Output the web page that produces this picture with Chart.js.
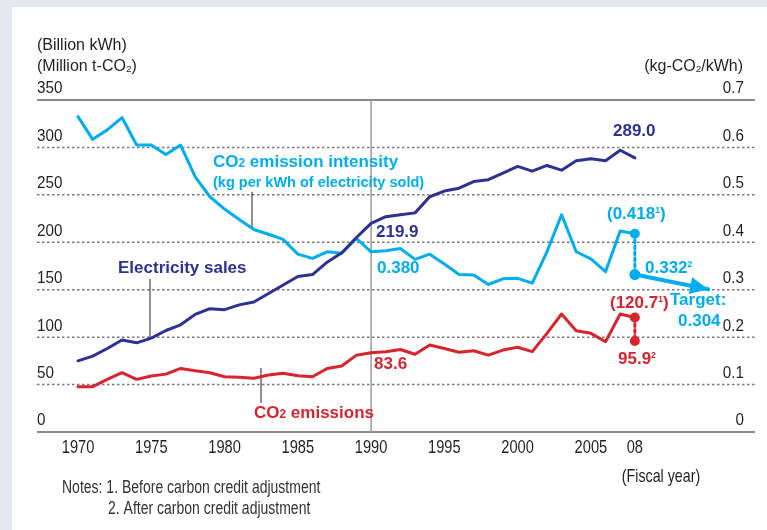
<!DOCTYPE html>
<html lang="en">
<head>
    <meta charset="UTF-8">
    <title>Electricity sales and CO2 emissions</title>
    <script src="https://cdn.jsdelivr.net/npm/chart.js"></script>
    <style>
        html, body { margin: 0; padding: 0; background: #fff; }
        #wrap { width: 767px; height: 530px; }
    </style>
</head>
<body>
<div id="wrap"><canvas id="myChart" width="767" height="530"></canvas></div>
<script>
    // fiscal years 1970 - 2008
    const years = [1970, 1971, 1972, 1973, 1974, 1975, 1976, 1977, 1978, 1979,
        1980, 1981, 1982, 1983, 1984, 1985, 1986, 1987, 1988, 1989,
        1990, 1991, 1992, 1993, 1994, 1995, 1996, 1997, 1998, 1999,
        2000, 2001, 2002, 2003, 2004, 2005, 2006, 2007, 2008];

    // billion kWh
    const electricitySales = [75, 80, 88, 97, 94, 99, 107, 113, 124, 130,
        129, 134, 137, 146, 155, 164, 166, 179, 189, 205,
        219.9, 227, 229, 231, 248, 254, 257, 264, 266, 273,
        280, 275, 281, 276, 286, 288, 286, 297, 289.0];

    // million t-CO2
    const co2Emissions = [47.8, 47.8, 55.5, 62.5, 55.5, 59, 61, 67, 64.6, 62.5,
        58.3, 57.6, 56.6, 60, 61.9, 59.4, 58.3, 67, 69.6, 81,
        83.6, 84.7, 87, 82, 91.7, 88, 84, 85.7, 81, 86.4,
        89.3, 84.7, 104, 124.4, 106.8, 104, 95.2, 124.4, 120.7];

    // kg-CO2/kWh
    const co2Intensity = [0.665, 0.617, 0.637, 0.663, 0.605, 0.605, 0.585, 0.605, 0.538, 0.496,
        0.470, 0.448, 0.427, 0.417, 0.406, 0.375, 0.366, 0.380, 0.377, 0.408,
        0.380, 0.382, 0.387, 0.364, 0.375, 0.354, 0.332, 0.331, 0.311, 0.323,
        0.324, 0.314, 0.380, 0.458, 0.380, 0.365, 0.338, 0.424, 0.418];

    // 2008 before / after carbon credit adjustment
    const emissions2008 = [120.7, 95.9];
    const intensity2008 = [0.418, 0.332];
    // target (FY2008-2012 average) arrow
    const targetYears = [2008, 2013];
    const targetValues = [0.332, 0.301];

    const leftTicks = [0, 50, 100, 150, 200, 250, 300, 350];
    const rightTicks = ['0', '0.1', '0.2', '0.3', '0.4', '0.5', '0.6', '0.7'];
    const xTicks = [1970, 1975, 1980, 1985, 1990, 1995, 2000, 2005, 2008];
    const xTickLabels = ['1970', '1975', '1980', '1985', '1990', '1995', '2000', '2005', '08'];

    const NAVY = '#2e3192';
    const CYAN = '#00aeef';
    const RED = '#d7242f';
    const TEXT = '#231f20';
    const SANS = "'Liberation Sans', Arial, sans-serif";

    function pts(xs, ys) {
        return xs.map((x, i) => ({ x: x, y: ys[i] }));
    }

    // draw text made of parts [text, sizeFactor, dy]; squeeze < 1 gives a condensed look
    function richText(ctx, parts, x, y, size, weight, color, align, squeeze) {
        const sq = squeeze || 1;
        ctx.save();
        ctx.fillStyle = color;
        ctx.textBaseline = 'middle';
        ctx.textAlign = 'left';
        let w = 0;
        parts.forEach(p => {
            ctx.font = weight + ' ' + (size * p[1]) + 'px ' + SANS;
            w += ctx.measureText(p[0]).width;
        });
        w *= sq;
        let start = align === 'right' ? x - w : (align === 'center' ? x - w / 2 : x);
        ctx.translate(start, y);
        ctx.scale(sq, 1);
        let cx = 0;
        parts.forEach(p => {
            ctx.font = weight + ' ' + (size * p[1]) + 'px ' + SANS;
            ctx.fillText(p[0], cx, p[2] * size);
            cx += ctx.measureText(p[0]).width;
        });
        ctx.restore();
    }

    function line(ctx, x1, y1, x2, y2, color, width, dash) {
        ctx.save();
        ctx.strokeStyle = color;
        ctx.lineWidth = width;
        ctx.setLineDash(dash || []);
        ctx.beginPath();
        ctx.moveTo(x1, y1);
        ctx.lineTo(x2, y2);
        ctx.stroke();
        ctx.restore();
    }

    const decorPlugin = {
        id: 'decor',
        beforeDraw(chart) {
            const ctx = chart.ctx;
            ctx.save();
            ctx.fillStyle = '#fff';
            ctx.fillRect(0, 0, chart.width, chart.height);
            ctx.fillStyle = '#e4e7f0';
            ctx.fillRect(0, 0, 12, chart.height);
            ctx.fillRect(0, 0, chart.width, 7);
            ctx.restore();
        },
        beforeDatasetsDraw(chart) {
            const ctx = chart.ctx;
            const a = chart.chartArea;
            const y = chart.scales.y;
            const x = chart.scales.x;

            leftTicks.forEach((v, i) => {
                const py = y.getPixelForValue(v);
                if (v === 0 || v === 350) {
                    line(ctx, a.left, py, a.right, py, '#8a8a8a', 2);
                } else {
                    line(ctx, a.left, py, a.right, py, '#7a7a7a', 1.5, [2.5, 2.5]);
                }
                richText(ctx, [[String(v), 1, 0]], a.left, py - 11, 16, 'normal', TEXT, 'left', 0.95);
                richText(ctx, [[rightTicks[i], 1, 0]], 744, py - 11, 16, 'normal', TEXT, 'right', 0.95);
            });

            const px90 = x.getPixelForValue(1990);
            line(ctx, px90, a.top, px90, a.bottom, '#9a9a9a', 1.5);

            xTicks.forEach((v, i) => {
                richText(ctx, [[xTickLabels[i], 1, 0]], x.getPixelForValue(v), 448, 19, 'normal', TEXT, 'center', 0.77);
            });

            // axis titles
            richText(ctx, [['(Billion kWh)', 1, 0]], 37, 46, 16, 'normal', TEXT, 'left');
            richText(ctx, [['(Million t-CO', 1, 0], ['2', 0.62, 0.12], [')', 1, 0]], 37, 67, 16, 'normal', TEXT, 'left');
            richText(ctx, [['(kg-CO', 1, 0], ['2', 0.62, 0.12], ['/kWh)', 1, 0]], 743, 67, 16, 'normal', TEXT, 'right');
            richText(ctx, [['(Fiscal year)', 1, 0]], 661, 477, 19, 'normal', TEXT, 'center', 0.75);

            // notes
            richText(ctx, [['Notes: 1. Before carbon credit adjustment', 1, 0]], 62, 488, 17.5, 'normal', '#333', 'left', 0.8);
            richText(ctx, [['2. After carbon credit adjustment', 1, 0]], 108, 509, 17.5, 'normal', '#333', 'left', 0.8);

            // leader lines
            line(ctx, 252, 192, 252, 227, '#231f20', 1);
            line(ctx, 150, 279, 150, 337, '#231f20', 1);
            line(ctx, 261, 368, 261, 403, '#231f20', 1);
        },
        afterDatasetsDraw(chart) {
            const ctx = chart.ctx;
            // arrow head for the target line
            const meta = chart.getDatasetMeta(5);
            const p0 = meta.data[0], p1 = meta.data[1];
            const ang = Math.atan2(p1.y - p0.y, p1.x - p0.x);
            const len = 18, half = 8.5;
            ctx.save();
            ctx.fillStyle = CYAN;
            ctx.translate(p1.x, p1.y);
            ctx.rotate(ang);
            ctx.beginPath();
            ctx.moveTo(0, 0);
            ctx.lineTo(-len, -half);
            ctx.lineTo(-len, half);
            ctx.closePath();
            ctx.fill();
            ctx.restore();

            const B = 'bold';
            richText(ctx, [['CO', 1, 0], ['2', 0.7, 0.1], [' emission intensity', 1, 0]], 213, 162, 17, B, CYAN, 'left');
            richText(ctx, [['(kg per kWh of electricity sold)', 1, 0]], 213, 183, 14.5, B, CYAN, 'left');
            richText(ctx, [['Electricity sales', 1, 0]], 118, 268, 17, B, NAVY, 'left');
            richText(ctx, [['CO', 1, 0], ['2', 0.7, 0.1], [' emissions', 1, 0]], 254, 413, 17, B, RED, 'left');
            richText(ctx, [['219.9', 1, 0]], 376, 232, 17, B, NAVY, 'left');
            richText(ctx, [['0.380', 1, 0]], 377, 268, 17, B, CYAN, 'left');
            richText(ctx, [['83.6', 1, 0]], 374, 364, 17, B, RED, 'left');
            richText(ctx, [['289.0', 1, 0]], 613, 131, 17, B, NAVY, 'left');
            richText(ctx, [['(0.418', 1, 0], ['1', 0.5, -0.22], [')', 1, 0]], 607, 214, 17, B, CYAN, 'left');
            richText(ctx, [['0.332', 1, 0], ['2', 0.5, -0.22]], 645, 268, 17, B, CYAN, 'left');
            richText(ctx, [['(120.7', 1, 0], ['1', 0.5, -0.22], [')', 1, 0]], 610, 303, 17, B, RED, 'left');
            richText(ctx, [['95.9', 1, 0], ['2', 0.5, -0.22]], 618, 359, 17, B, RED, 'left');
            richText(ctx, [['Target:', 1, 0]], 670, 300, 17, B, CYAN, 'left');
            richText(ctx, [['0.304', 1, 0]], 678, 321, 17, B, CYAN, 'left');
        }
    };

    const ctx = document.getElementById('myChart').getContext('2d');
    new Chart(ctx, {
        type: 'line',
        data: {
            datasets: [
                {
                    label: 'Electricity sales',
                    data: pts(years, electricitySales),
                    borderColor: NAVY,
                    borderWidth: 3,
                    yAxisID: 'y'
                },
                {
                    label: 'CO2 emissions',
                    data: pts(years, co2Emissions),
                    borderColor: RED,
                    borderWidth: 3,
                    yAxisID: 'y'
                },
                {
                    label: 'CO2 emission intensity',
                    data: pts(years, co2Intensity),
                    borderColor: CYAN,
                    borderWidth: 3,
                    yAxisID: 'y2'
                },
                {
                    label: 'Emissions 2008 adjusted',
                    data: pts([2008, 2008], emissions2008),
                    borderColor: RED,
                    backgroundColor: RED,
                    borderWidth: 3,
                    borderDash: [3, 3],
                    pointRadius: 3.5,
                    yAxisID: 'y'
                },
                {
                    label: 'Intensity 2008 adjusted',
                    data: pts([2008, 2008], intensity2008),
                    borderColor: CYAN,
                    backgroundColor: CYAN,
                    borderWidth: 3,
                    borderDash: [3, 3],
                    pointRadius: 3.5,
                    yAxisID: 'y2'
                },
                {
                    label: 'Target',
                    data: pts(targetYears, targetValues),
                    borderColor: CYAN,
                    backgroundColor: CYAN,
                    borderWidth: 4,
                    pointRadius: [3.5, 0],
                    yAxisID: 'y2'
                }
            ]
        },
        options: {
            responsive: false,
            animation: false,
            layout: {
                padding: { left: 37, right: 12, top: 100, bottom: 98 }
            },
            elements: {
                line: { tension: 0, borderJoinStyle: 'round', borderCapStyle: 'round' },
                point: { radius: 0, hoverRadius: 0 }
            },
            plugins: {
                legend: { display: false },
                tooltip: { enabled: false }
            },
            scales: {
                x: { type: 'linear', min: 1967.2, max: 2016.2, display: false },
                y: { min: 0, max: 350, display: false },
                y2: { min: 0, max: 0.7, display: false, position: 'right' }
            }
        },
        plugins: [decorPlugin]
    });
</script>
</body>
</html>
